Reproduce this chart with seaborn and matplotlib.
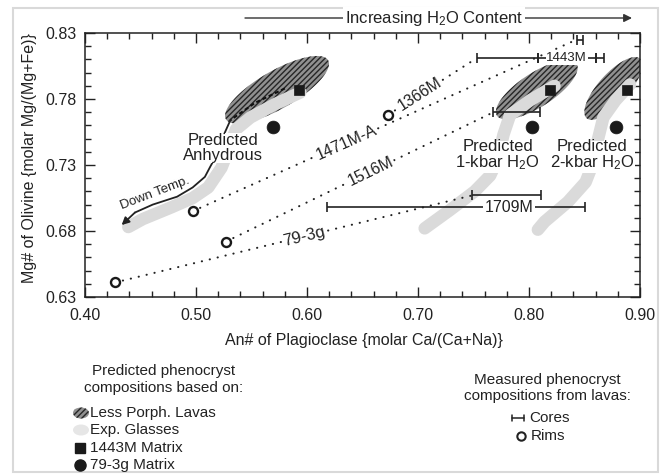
import numpy as np
import pandas as pd
import matplotlib
matplotlib.use("Agg")
import matplotlib.pyplot as plt
import seaborn as sns
from matplotlib.patches import Polygon, Ellipse, Rectangle
from matplotlib.ticker import MultipleLocator, FixedLocator

# ---------------- data ----------------
x_ticks = [0.40, 0.50, 0.60, 0.70, 0.80, 0.90]
x_tick_labels = ["0.40", "0.50", "0.60", "0.70", "0.80", "0.90"]
y_ticks = [0.63, 0.68, 0.73, 0.78, 0.83]
y_tick_labels = ["0.63", "0.68", "0.73", "0.78", "0.83"]

# predicted matrix compositions (anhydrous, 1-kbar, 2-kbar)
matrix_1443m_an = [0.593, 0.819, 0.888]
matrix_1443m_mg = [0.787, 0.787, 0.787]
matrix_793g_an = [0.569, 0.803, 0.878]
matrix_793g_mg = [0.759, 0.759, 0.759]

# measured rims and where their tie-line meets the core range
rim_samples = ["79-3g", "1471M-A", "1516M", "1366M"]
rim_an = [0.427, 0.497, 0.527, 0.673]
rim_mg = [0.641, 0.695, 0.672, 0.768]
link_an = [0.749, 0.843, 0.768, 0.753]
link_mg = [0.707, 0.825, 0.770, 0.811]
label_frac = [0.53, 0.40, 0.54, 0.36]

# measured cores (ranges)
core_an_low = [0.753, 0.808, 0.843, 0.768, 0.749, 0.618]
core_an_high = [0.808, 0.868, 0.849, 0.810, 0.811, 0.850]
core_mg = [0.811, 0.811, 0.825, 0.770, 0.707, 0.698]
core_extra_an = [0.860]
core_extra_mg = [0.811]

# less porphyritic lavas fields (centre, length, width in px, tilt)
lava_an = [0.573, 0.807, 0.876]
lava_mg = [0.787, 0.787, 0.788]
lava_len = [118, 95, 80]
lava_wid = [38, 34, 30]
lava_tilt = [30, 33, 48]

# experimental glass trends
glass_anhyd_an = [0.594, 0.571, 0.549, 0.536, 0.529, 0.523, 0.511, 0.497, 0.478, 0.452, 0.439]
glass_anhyd_mg = [0.785, 0.776, 0.766, 0.757, 0.741, 0.728, 0.713, 0.705, 0.698, 0.689, 0.683]
glass_1kb_an = [0.823, 0.801, 0.783, 0.777, 0.772, 0.765, 0.751, 0.729, 0.706]
glass_1kb_mg = [0.790, 0.779, 0.768, 0.753, 0.735, 0.722, 0.710, 0.696, 0.682]
glass_2kb_an = [0.891, 0.878, 0.867, 0.862, 0.858, 0.851, 0.835, 0.814, 0.808]
glass_2kb_mg = [0.791, 0.779, 0.766, 0.749, 0.732, 0.717, 0.702, 0.687, 0.681]

# down-temperature path
temp_dash_an = [0.580, 0.553, 0.531]
temp_dash_mg = [0.788, 0.777, 0.764]
temp_an = [0.531, 0.523, 0.517, 0.513, 0.508, 0.497, 0.483, 0.461, 0.445, 0.433]
temp_mg = [0.764, 0.749, 0.735, 0.729, 0.721, 0.713, 0.706, 0.700, 0.694, 0.6845]

# ---------------- styling ----------------
sns.set_theme(style="ticks")
plt.rcParams['font.family'] = ['Liberation Sans', 'DejaVu Sans']
plt.rcParams['mathtext.fontset'] = 'custom'
plt.rcParams['mathtext.rm'] = 'Liberation Sans'
plt.rcParams['mathtext.it'] = 'Liberation Sans:italic'
plt.rcParams['mathtext.bf'] = 'Liberation Sans:bold'
plt.rcParams['hatch.linewidth'] = 1.0
TXT = '#222222'
GLASS = '#dadada'
HFACE = '#909090'
HLINE = '#262626'

W, H = 668, 476
L, R, T, B = 85, 640, 33, 297
fig = plt.figure(figsize=(W / 100, H / 100), dpi=100)
fig.patch.set_facecolor('white')
ax = fig.add_axes([L / W, 1 - B / H, (R - L) / W, (B - T) / H])
ax.set_zorder(1)
ax.set_facecolor('white')
ax.set_xlim(0.40, 0.90)
ax.set_ylim(0.63, 0.83)
bb = ax.get_window_extent()
kx = bb.width / 0.50
ky = bb.height / 0.20

# lava fields
for cx, cy, lp, wp, ang in zip(lava_an, lava_mg, lava_len, lava_wid, lava_tilt):
    t = np.linspace(0, 2 * np.pi, 160)
    u = lp / 2 * np.cos(t)
    v = wp / 2 * np.sin(t)
    a = np.deg2rad(ang)
    xs = cx + (u * np.cos(a) - v * np.sin(a)) / kx
    ys = cy + (u * np.sin(a) + v * np.cos(a)) / ky
    ax.add_patch(Polygon(np.column_stack([xs, ys]), closed=True, facecolor=HFACE,
                         edgecolor=HLINE, hatch='//////', linewidth=0, zorder=1.5))

# glass trends
for gx, gy in [(glass_anhyd_an, glass_anhyd_mg), (glass_1kb_an, glass_1kb_mg), (glass_2kb_an, glass_2kb_mg)]:
    ax.plot(gx, gy, color=GLASS, lw=9, solid_capstyle='round', solid_joinstyle='round', zorder=2)

# down temp path
ax.plot(temp_dash_an, temp_dash_mg, color='#111111', lw=1.5, linestyle=(0, (2, 1.3)), zorder=2.6)
ax.plot(temp_an[:-1], temp_mg[:-1], color='#222222', lw=1.3, zorder=2.6)
ax.annotate('', xy=(temp_an[-1], temp_mg[-1]), xytext=(temp_an[-2], temp_mg[-2]),
            arrowprops=dict(arrowstyle='-|>', color='#222222', lw=1.3, mutation_scale=11,
                            shrinkA=0, shrinkB=0), zorder=2.6)
ax.text(0.4631, 0.7088, 'Down Temp.', rotation=21, rotation_mode='anchor', ha='center', va='center',
        fontsize=9.5, color=TXT, zorder=3)

# tie lines rim -> core
for i in range(len(rim_an)):
    ax.plot([rim_an[i], link_an[i]], [rim_mg[i], link_mg[i]], color='#222222', lw=1.5,
            linestyle=(0, (0.1, 3.8)), dash_capstyle='round', zorder=2.5)
    f = label_frac[i]
    lx = rim_an[i] + f * (link_an[i] - rim_an[i])
    ly = rim_mg[i] + f * (link_mg[i] - rim_mg[i])
    p0 = ax.transData.transform((rim_an[i], rim_mg[i]))
    p1 = ax.transData.transform((link_an[i], link_mg[i]))
    rot = np.degrees(np.arctan2(p1[1] - p0[1], p1[0] - p0[0]))
    ax.text(lx, ly, rim_samples[i], rotation=rot, rotation_mode='anchor', ha='center', va='center',
            fontsize=12 if rim_samples[i] == '79-3g' else 11.5, color=TXT, zorder=3.2,
            bbox=dict(fc='white', ec='none', pad=0.8))

# cores
cores = pd.DataFrame({'lo': core_an_low, 'hi': core_an_high, 'mg': core_mg})
cores['mid'] = (cores['lo'] + cores['hi']) / 2
cores['half'] = (cores['hi'] - cores['lo']) / 2
ax.errorbar(cores['mid'], cores['mg'], xerr=cores['half'], fmt='none', ecolor='#222222',
            elinewidth=1.2, capsize=3.5, capthick=1.2, zorder=3)
ax.errorbar(core_extra_an, core_extra_mg, xerr=[0.0], fmt='none', ecolor='#222222',
            elinewidth=1.2, capsize=3.5, capthick=1.2, zorder=3)
ax.text(0.834, 0.811, '1443M', ha='center', va='center', fontsize=9.5, color=TXT, zorder=3.5,
        bbox=dict(fc='white', ec='none', pad=0.6))
ax.text(0.782, 0.698, '1709M', ha='center', va='center', fontsize=11.5, color=TXT, zorder=3.5,
        bbox=dict(fc='white', ec='none', pad=0.8))

# field labels
lab_kw = dict(ha='center', va='center', fontsize=12, color=TXT, linespacing=0.95, zorder=3.4,
              bbox=dict(fc='white', ec='none', pad=0.3))
ax.text(0.524, 0.743, 'Predicted\nAnhydrous', **lab_kw)
ax.text(0.772, 0.737, 'Predicted\n1-kbar H$_2$O', **lab_kw)
ax.text(0.857, 0.737, 'Predicted\n2-kbar H$_2$O', **lab_kw)

# markers
df_sq = pd.DataFrame({'an': matrix_1443m_an, 'mg': matrix_1443m_mg})
df_ci = pd.DataFrame({'an': matrix_793g_an, 'mg': matrix_793g_mg})
df_rim = pd.DataFrame({'an': rim_an, 'mg': rim_mg, 'sample': rim_samples})
sns.scatterplot(data=df_sq, x='an', y='mg', marker='s', s=62, color='#1a1a1a', edgecolor='#1a1a1a',
                linewidth=0.5, ax=ax, zorder=5, legend=False)
sns.scatterplot(data=df_ci, x='an', y='mg', marker='o', s=85, color='#1a1a1a', edgecolor='#1a1a1a',
                linewidth=0.5, ax=ax, zorder=5, legend=False)
sns.scatterplot(data=df_rim, x='an', y='mg', marker='o', s=42, facecolor='white', edgecolor='#1a1a1a',
                linewidth=1.7, ax=ax, zorder=5, legend=False)

# axes cosmetics
ax.set_xlim(0.40, 0.90)
ax.set_ylim(0.63, 0.83)
ax.xaxis.set_major_locator(FixedLocator(x_ticks))
ax.set_xticklabels(x_tick_labels)
ax.yaxis.set_major_locator(FixedLocator(y_ticks))
ax.set_yticklabels(y_tick_labels)
ax.xaxis.set_minor_locator(MultipleLocator(0.02))
ax.yaxis.set_minor_locator(MultipleLocator(0.01))
ax.tick_params(which='both', direction='in', top=True, right=True, color='#222222',
               labelcolor=TXT, labelsize=11.5, width=1)
ax.tick_params(which='major', length=7)
ax.tick_params(which='minor', length=4)
ax.tick_params(axis='x', pad=8)
ax.tick_params(axis='y', pad=6)
ax.set_xlabel('')
ax.set_ylabel('')
for s in ax.spines.values():
    s.set_color('#222222')
    s.set_linewidth(1.1)

# ---------------- overlay (titles, legend) in pixel coordinates ----------------
lay = fig.add_axes([0, 0, 1, 1])
lay.set_xlim(0, W)
lay.set_ylim(H, 0)
lay.axis('off')
lay.set_zorder(0)

lay.add_patch(Rectangle((13, 8), 645, 464, fill=False, ec='#d9d9d9', lw=1.5))
lay.annotate('', xy=(632, 18), xytext=(245, 18),
             arrowprops=dict(arrowstyle='-|>', color='#333333', lw=1.0, mutation_scale=12,
                             shrinkA=0, shrinkB=0))
lay.text(434, 18, 'Increasing H$_2$O Content', ha='center', va='center', fontsize=12, color=TXT,
         zorder=5, bbox=dict(fc='white', ec='none', pad=1.5))
lay.text(364, 341, 'An# of Plagioclase {molar Ca/(Ca+Na)}', ha='center', va='center',
         fontsize=11.5, color=TXT)
lay.text(30, 158, 'Mg# of Olivine {molar Mg/(Mg+Fe)}', ha='center', va='center', rotation=90,
         fontsize=11.5, color=TXT)

# left legend block
LF = 11
lay.text(164, 371, 'Predicted phenocryst', ha='center', va='center', fontsize=LF, color=TXT)
lay.text(164, 388, 'compositions based on:', ha='center', va='center', fontsize=LF, color=TXT)
lay.add_patch(Ellipse((81, 413), 16, 11, facecolor=HFACE, edgecolor=HLINE, hatch='//////', lw=0))
lay.add_patch(Ellipse((81, 430), 16, 11, facecolor='#e6e6e6', edgecolor='none', lw=0))
lay.plot([80], [448], marker='s', ms=7, color='#1a1a1a')
lay.plot([80], [465], marker='o', ms=8, color='#1a1a1a')
for yy, tx in zip([413, 430, 448, 465], ['Less Porph. Lavas', 'Exp. Glasses', '1443M Matrix', '79-3g Matrix']):
    lay.text(90, yy, tx, ha='left', va='center', fontsize=LF, color=TXT)

# right legend block
lay.text(547, 380, 'Measured phenocryst', ha='center', va='center', fontsize=LF, color=TXT)
lay.text(547, 396, 'compositions from lavas:', ha='center', va='center', fontsize=LF, color=TXT)
lay.plot([512, 524], [418, 418], color='#222222', lw=1.1)
lay.plot([512, 512], [415, 421], color='#222222', lw=1.1)
lay.plot([524, 524], [415, 421], color='#222222', lw=1.1)
lay.text(529, 418, 'Cores', ha='left', va='center', fontsize=LF, color=TXT)
lay.plot([521], [436], marker='o', ms=6, mfc='white', mec='#222222', mew=1.5)
lay.text(531, 436, 'Rims', ha='left', va='center', fontsize=LF, color=TXT)

fig.savefig('out.png', dpi=100, facecolor='white')
